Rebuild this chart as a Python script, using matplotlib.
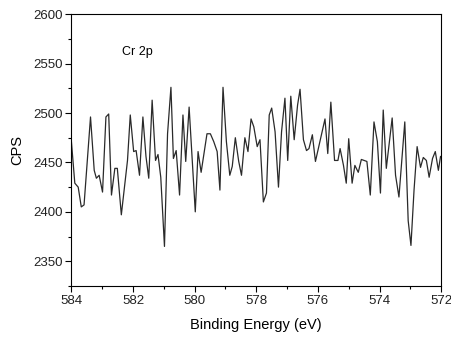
import numpy as np
import matplotlib
matplotlib.use("Agg")
import matplotlib.pyplot as plt
from matplotlib.ticker import MultipleLocator

plt.rcParams['font.family'] = ['Liberation Sans', 'DejaVu Sans']

# binding energy (eV) and counts
energy = [584.00, 583.89, 583.78, 583.68, 583.59, 583.38, 583.26, 583.19, 583.10, 582.99,
          582.88, 582.79, 582.70, 582.59, 582.51, 582.38, 582.18, 582.09, 581.98, 581.90,
          581.79, 581.68, 581.58, 581.49, 581.38, 581.27, 581.19, 581.10, 580.98, 580.88,
          580.77, 580.69, 580.60, 580.49, 580.38, 580.29, 580.18, 579.98, 579.89, 579.79,
          579.60, 579.49, 579.38, 579.27, 579.18, 579.08, 578.97, 578.86, 578.78, 578.68,
          578.57, 578.48, 578.37, 578.27, 578.17, 578.08, 577.97, 577.88, 577.77, 577.67,
          577.58, 577.50, 577.39, 577.28, 577.18, 577.07, 576.98, 576.88, 576.77, 576.66,
          576.58, 576.47, 576.37, 576.29, 576.18, 576.08, 575.77, 575.68, 575.58, 575.46,
          575.35, 575.28, 575.17, 575.08, 575.00, 574.89, 574.80, 574.69, 574.59, 574.41,
          574.30, 574.18, 574.07, 573.97, 573.88, 573.78, 573.59, 573.48, 573.37, 573.18,
          573.07, 572.98, 572.88, 572.78, 572.67, 572.58, 572.48, 572.39, 572.28, 572.19,
          572.09, 572.02]
cps = [2471, 2429, 2425, 2405, 2407, 2496, 2442, 2434, 2437, 2420,
       2496, 2499, 2417, 2444, 2444, 2397, 2452, 2498, 2461, 2462,
       2437, 2496, 2456, 2434, 2513, 2452, 2458, 2435, 2365, 2479,
       2526, 2454, 2462, 2417, 2498, 2451, 2506, 2400, 2461, 2440,
       2479, 2479, 2471, 2461, 2422, 2526, 2471, 2437, 2446, 2475,
       2451, 2437, 2475, 2461, 2494, 2486, 2466, 2473, 2410, 2419,
       2498, 2505, 2481, 2425, 2481, 2515, 2452, 2517, 2473, 2508,
       2524, 2473, 2462, 2464, 2478, 2451, 2494, 2459, 2511, 2452,
       2452, 2464, 2447, 2429, 2474, 2429, 2447, 2440, 2453, 2451,
       2417, 2491, 2471, 2419, 2503, 2444, 2495, 2437, 2415, 2491,
       2391, 2366, 2422, 2466, 2445, 2455, 2452, 2435, 2454, 2461,
       2442, 2456]

fig = plt.figure(figsize=(4.52, 3.38), dpi=100)
ax = fig.add_axes([0.158, 0.154, 0.818, 0.804])
ax.plot(energy, cps, color='#2a2a2a', linewidth=0.9)

ax.set_xlim(584, 572)
ax.set_ylim(2325, 2600)
ax.xaxis.set_major_locator(MultipleLocator(2))
ax.xaxis.set_minor_locator(MultipleLocator(1))
ax.yaxis.set_major_locator(MultipleLocator(50))
ax.yaxis.set_minor_locator(MultipleLocator(25))
ax.tick_params(which='both', direction='out', top=False, right=False, labelsize=9.5,
               width=0.8, labelcolor='#222222')
ax.tick_params(which='major', length=4, pad=2.5)
ax.tick_params(which='minor', length=2.5)
for s in ax.spines.values():
    s.set_linewidth(0.8)

ax.set_xlabel("Binding Energy (eV)", fontsize=10.5, labelpad=8)
ax.set_ylabel("CPS", fontsize=10.5, labelpad=6)
ax.text(582.35, 2562, "Cr 2p", fontsize=9, va='center')

fig.savefig("out.png", dpi=100)
